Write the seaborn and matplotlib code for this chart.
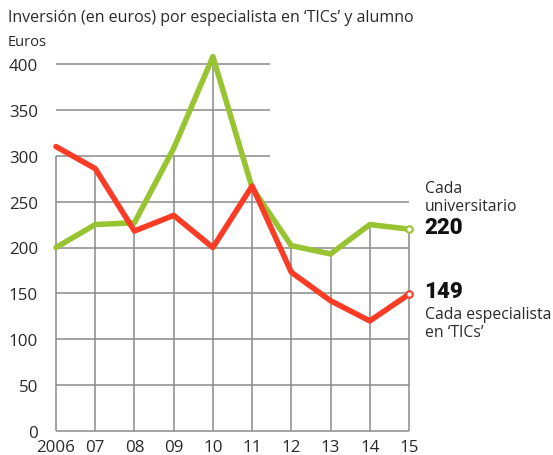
import matplotlib
matplotlib.use("Agg")
import matplotlib.pyplot as plt
import seaborn as sns
import pandas as pd
import numpy as np

years = [2006, 2007, 2008, 2009, 2010, 2011, 2012, 2013, 2014, 2015]
year_labels = ["2006", "07", "08", "09", "10", "11", "12", "13", "14", "15"]
universitario = [200, 225, 227, 308, 408, 265, 202, 193, 225, 220]
especialista = [310, 286, 218, 235, 200, 267, 173, 142, 120, 149]
y_ticks = [0, 50, 100, 150, 200, 250, 300, 350, 400]

sns.set_style("white")
plt.rcParams['font.family'] = ['Open Sans', 'DejaVu Sans']

GREEN = "#99c432"
RED = "#fa3c26"
GRID = "#8a8a8a"
TXT = "#2a2a2a"

df = pd.DataFrame({
    "year": years * 2,
    "value": universitario + especialista,
    "serie": ["universitario"] * len(years) + ["especialista"] * len(years),
})

fig = plt.figure(figsize=(5.53, 4.56), dpi=100)
ax = fig.add_axes([56 / 553, 24 / 456, (409 - 56) / 553, (432 - 65) / 456])
ax.set_xlim(2006, 2015)
ax.set_ylim(0, 400)
for s in ax.spines.values():
    s.set_visible(False)

# grid: horizontal lines
for v in y_ticks:
    if v <= 250:
        ax.hlines(v, 2006, 2015, color=GRID, lw=1.1, zorder=1, clip_on=False)
    else:
        ax.hlines(v, 2006, 2011.45, color=GRID, lw=1.1, zorder=1, clip_on=False)

# grid: vertical lines up to envelope (capped at 300), with 2010 extending to 400
env = np.maximum(universitario, especialista)
for x, top in zip(years, env):
    ax.vlines(x, 0, min(top, 300), color=GRID, lw=1.1, zorder=1, clip_on=False)
ax.vlines(2010, 300, 400, color=GRID, lw=1.1, zorder=1, clip_on=False)

sns.lineplot(data=df, x="year", y="value", hue="serie",
             hue_order=["universitario", "especialista"],
             palette={"universitario": GREEN, "especialista": RED},
             lw=4.0, legend=False, ax=ax, zorder=3)
for line in ax.lines:
    line.set_clip_on(False)
    line.set_solid_joinstyle("round")
    line.set_solid_capstyle("round")

ax.scatter([years[-1]], [universitario[-1]], s=22, facecolor="white",
           edgecolor=GREEN, linewidth=1.5, zorder=5, clip_on=False)
ax.scatter([years[-1]], [especialista[-1]], s=22, facecolor="white",
           edgecolor=RED, linewidth=1.5, zorder=5, clip_on=False)

ax.set_yticks(y_ticks)
ax.set_yticklabels([str(v) for v in y_ticks], fontsize=12.2, color=TXT)
ax.set_xticks(years)
ax.set_xticklabels(year_labels, fontsize=12.2, color=TXT)
ax.tick_params(axis="y", length=0, pad=13)
ax.tick_params(axis="x", length=0, pad=6)
ax.set_xlabel("")
ax.set_ylabel("")

fig.text(8 / 553, 1 - 18 / 456, "Inversión (en euros) por especialista en ‘TICs’ y alumno",
         fontsize=11.5, color=TXT, va="center", ha="left")
fig.text(8 / 553, 1 - 42 / 456, "Euros", fontsize=10.5, color=TXT,
         va="center", ha="left")

fig.text(425 / 553, 1 - 198 / 456, "Cada\nuniversitario", fontsize=11.3,
         color=TXT, va="center", ha="left", linespacing=1.1)
fig.text(424 / 553, 1 - 228 / 456, "220", fontsize=16, fontweight="heavy",
         family="Roboto", color="#111111", va="center", ha="left")
fig.text(424 / 553, 1 - 292 / 456, "149", fontsize=16, fontweight="heavy",
         family="Roboto", color="#111111", va="center", ha="left")
fig.text(425 / 553, 1 - 324 / 456, "Cada especialista\nen ‘TICs’", fontsize=11.3,
         color=TXT, va="center", ha="left", linespacing=1.1)

fig.savefig("out.png", dpi=100)
